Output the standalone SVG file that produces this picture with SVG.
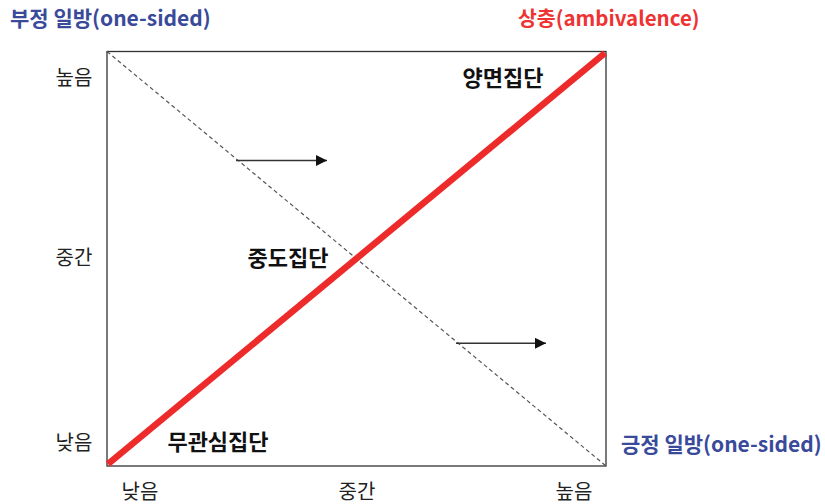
<svg xmlns="http://www.w3.org/2000/svg" width="825" height="504" viewBox="0 0 825 504">
<style>
text{font-family:"Noto Sans CJK KR","Noto Sans",sans-serif;}
.ax{font-size:20px;fill:#222;}
.grp{font-size:22px;font-weight:bold;fill:#111;}
.blue{font-size:21px;font-weight:bold;fill:#3a4a9a;}
.red{font-size:20.5px;font-weight:bold;fill:#ee3333;}
</style>
<defs>
<marker id="ah" viewBox="0 0 10 10" refX="10" refY="5" markerWidth="11" markerHeight="11" markerUnits="userSpaceOnUse" orient="auto">
<path d="M0,0 L10,5 L0,10 z" fill="#111"/>
</marker>
</defs>
<rect width="825" height="504" fill="#fff"/>
<g id="frame">
<rect x="107" y="51.5" width="499" height="414.5" fill="none" stroke="#333" stroke-width="1.3"/>
</g>
<g id="connectors">
<line x1="107" y1="51.5" x2="606" y2="466" stroke="#555" stroke-width="1.2" stroke-dasharray="4,3"/>
<line x1="108" y1="464" x2="605" y2="53" stroke="#ee2b2b" stroke-width="6.5"/>
<line x1="236" y1="160.5" x2="327" y2="160.5" stroke="#333" stroke-width="1.4" marker-end="url(#ah)"/>
<line x1="456" y1="343.3" x2="546" y2="343.3" stroke="#333" stroke-width="1.4" marker-end="url(#ah)"/>
</g>
<g id="title-neg"><text class="blue" x="10" y="26">부정 일방(one-sided)</text></g>
<g id="title-amb"><text class="red" x="518" y="26">상충(ambivalence)</text></g>
<g id="title-pos"><text class="blue" x="621" y="452">긍정 일방(one-sided)</text></g>
<g id="y-high"><text class="ax" x="74" y="85" text-anchor="middle">높음</text></g>
<g id="y-mid"><text class="ax" x="74" y="265" text-anchor="middle">중간</text></g>
<g id="y-low"><text class="ax" x="74" y="450" text-anchor="middle">낮음</text></g>
<g id="x-low"><text class="ax" x="140" y="499" text-anchor="middle">낮음</text></g>
<g id="x-mid"><text class="ax" x="357" y="499" text-anchor="middle">중간</text></g>
<g id="x-high"><text class="ax" x="574" y="499" text-anchor="middle">높음</text></g>
<g id="grp-amb"><text class="grp" x="503" y="86" text-anchor="middle">양면집단</text></g>
<g id="grp-mid"><text class="grp" x="288" y="266" text-anchor="middle">중도집단</text></g>
<g id="grp-ind"><text class="grp" x="218" y="450" text-anchor="middle">무관심집단</text></g>
</svg>
